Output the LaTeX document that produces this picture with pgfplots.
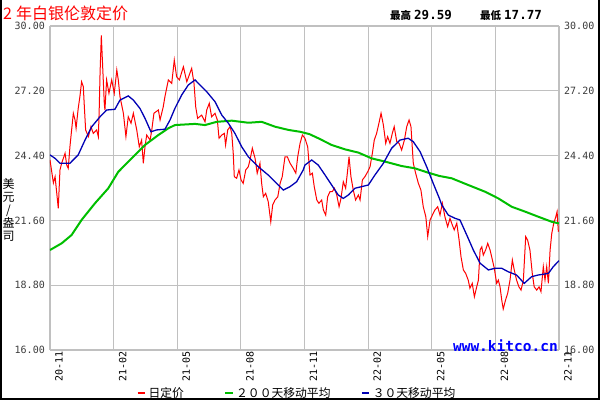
\documentclass[border=0pt]{standalone}
\usepackage{pgfplots}
\pgfplotsset{compat=1.18}
\usepackage{fontspec}
\setmainfont{DejaVu Sans}
\newfontfamily\cjk{Noto Sans CJK SC}
\newfontfamily\mono{DejaVu Sans Mono}
\definecolor{redl}{RGB}{255,0,0}
\definecolor{greenl}{RGB}{0,190,0}
\definecolor{bluel}{RGB}{0,0,180}
\definecolor{gridc}{RGB}{192,192,192}
\definecolor{urlc}{RGB}{0,0,255}
\definecolor{tickc}{RGB}{60,60,60}
\begin{document}
\begin{tikzpicture}[x=1pt,y=1pt]
\path[use as bounding box] (0,0) rectangle (600,-400);
\draw[black, line width=2pt] (1,0) -- (1,-399) -- (599,-399) -- (599,0);
\node[anchor=base west, text=redl, font=\cjk\fontsize{16}{16}\selectfont, inner sep=0pt] at (3,-19.5) {2\hspace{4pt}年白银伦敦定价};
\node[anchor=base west, inner sep=0pt] at (390,-19) {{\cjk\bfseries\fontsize{10.5}{11}\selectfont 最高}\hspace{3pt}{\mono\bfseries\fontsize{12.5}{13}\selectfont 29.59}};
\node[anchor=base west, inner sep=0pt] at (480,-19) {{\cjk\bfseries\fontsize{10.5}{11}\selectfont 最低}\hspace{3pt}{\mono\bfseries\fontsize{12.5}{13}\selectfont 17.77}};
\node[align=center, font=\cjk\fontsize{12}{13}\selectfont, inner sep=0pt] at (8.5,-210) {美\\元\\/\\盎\\司};
\begin{axis}[
  at={(50pt,-350pt)}, anchor=south west, scale only axis,
  width=509pt, height=324pt,
  xmin=0, xmax=24, ymin=16, ymax=30,
  xtick={0,3,...,24},
  xticklabels={20-11,21-02,21-05,21-08,21-11,22-02,22-05,22-08,22-11},
  ytick={16,18.8,21.6,24.4,27.2,30},
  /pgf/number format/assume math mode=true,
  yticklabel={\pgfmathprintnumber[fixed,fixed zerofill,precision=2]{\tick}},
  grid=major, major grid style={gridc, line width=1.2pt},
  axis line style={draw=none},
  major tick length=0pt,
  xticklabel style={rotate=90, anchor=east, font=\mono\fontsize{10}{12}\selectfont, inner sep=1pt, yshift=-9pt},
  yticklabel style={font=\mono\fontsize{10}{12}\selectfont, text=tickc, inner sep=1pt, xshift=-4pt},
  legend style={at={(0.485,-0.133)}, anchor=center, draw=none, fill=none,
    legend columns=3, font=\cjk\fontsize{11.8}{12}\selectfont,
    /tikz/column 2/.style={column sep=38pt},
    /tikz/column 4/.style={column sep=28pt}},
  legend image code/.code={\draw[#1, line width=2.7pt] (0pt,0pt) -- (7.5pt,0pt);},
]
\draw[gridc, line width=3pt] (rel axis cs:0,0) -- (rel axis cs:0,1);
\draw[gridc, line width=3pt] (rel axis cs:1,0) -- (rel axis cs:1,1);
\addplot[redl, line width=1pt] coordinates {
(0.00,24.21)(0.16,23.22)(0.24,23.49)(0.39,22.12)(0.47,23.78)(0.55,24.07)(0.71,24.50)(0.79,23.99)(0.86,23.85)(0.94,24.78)
(1.02,25.51)(1.10,26.23)(1.18,25.94)(1.23,25.58)(1.33,26.44)(1.41,26.95)(1.49,27.59)(1.57,27.38)(1.62,26.51)(1.68,25.51)
(1.81,25.22)(1.93,25.65)(2.04,25.36)(2.20,25.51)(2.28,25.22)(2.32,26.37)(2.36,27.96)(2.42,29.59)(2.47,28.53)(2.56,26.66)
(2.59,26.37)(2.67,27.67)(2.78,27.09)(2.91,27.67)(3.03,27.09)(3.15,28.10)(3.22,27.67)(3.30,26.95)(3.46,26.23)(3.58,25.22)
(3.69,26.08)(3.82,25.80)(3.93,26.23)(4.09,25.51)(4.21,24.78)(4.32,25.07)(4.40,24.07)(4.48,24.78)(4.56,25.29)(4.72,25.07)
(4.80,25.51)(4.90,26.23)(5.11,26.37)(5.19,25.94)(5.34,26.51)(5.42,26.95)(5.58,27.67)(5.74,27.52)(5.86,28.53)(5.97,27.81)
(6.10,27.67)(6.29,28.24)(6.45,27.59)(6.68,28.17)(6.79,27.52)(6.87,26.51)(6.96,26.01)(7.15,26.15)(7.31,25.86)(7.39,26.37)
(7.51,26.66)(7.62,26.08)(7.78,26.23)(7.89,25.94)(7.97,25.15)(8.10,25.29)(8.22,25.36)(8.28,24.86)(8.38,25.51)(8.49,25.65)
(8.57,25.36)(8.64,24.50)(8.69,23.49)(8.80,23.42)(8.91,23.78)(9.01,23.35)(9.11,23.20)(9.23,23.78)(9.35,23.92)(9.43,24.21)
(9.54,24.72)(9.67,24.28)(9.77,23.64)(9.90,24.07)(9.98,23.20)(10.06,22.62)(10.17,22.77)(10.29,22.41)(10.41,21.54)(10.50,22.27)
(10.61,22.48)(10.74,22.62)(10.85,23.20)(10.95,23.49)(11.08,24.35)(11.19,24.35)(11.32,24.07)(11.47,23.85)(11.59,23.64)(11.68,24.35)
(11.79,24.93)(11.90,25.29)(12.02,25.15)(12.15,24.78)(12.26,23.56)(12.37,23.64)(12.46,23.06)(12.58,22.48)(12.68,22.34)(12.81,22.48)
(12.89,22.05)(13.00,21.83)(13.09,22.62)(13.20,22.84)(13.31,22.84)(13.41,22.99)(13.52,22.70)(13.63,22.19)(13.72,22.55)(13.83,23.27)
(13.94,22.99)(14.02,23.64)(14.10,24.35)(14.19,23.49)(14.30,22.91)(14.41,22.48)(14.54,22.70)(14.62,22.48)(14.73,23.35)(14.85,23.49)
(14.98,23.70)(15.09,23.92)(15.20,24.50)(15.29,25.07)(15.40,25.36)(15.51,25.80)(15.61,26.23)(15.72,25.72)(15.83,24.93)(15.92,25.22)
(16.03,24.93)(16.14,25.36)(16.23,25.65)(16.35,25.00)(16.46,24.93)(16.58,24.64)(16.71,25.07)(16.82,25.65)(16.93,25.94)(17.02,25.65)
(17.13,24.07)(17.24,23.64)(17.37,23.20)(17.49,22.91)(17.60,22.19)(17.72,21.76)(17.81,20.90)(17.92,21.62)(18.03,21.83)(18.15,22.05)
(18.28,22.19)(18.39,21.83)(18.50,22.34)(18.62,21.76)(18.75,21.33)(18.86,21.69)(18.97,21.40)(19.06,21.19)(19.18,21.48)(19.29,20.75)
(19.38,20.03)(19.49,19.46)(19.60,19.31)(19.72,19.02)(19.80,18.67)(19.91,18.88)(20.01,18.30)(20.12,18.73)(20.20,19.02)(20.28,20.32)
(20.36,20.46)(20.43,20.10)(20.54,20.32)(20.64,20.61)(20.75,20.32)(20.86,19.89)(20.95,19.53)(21.06,18.88)(21.14,19.02)(21.22,18.73)
(21.30,18.16)(21.37,17.77)(21.48,18.16)(21.58,18.45)(21.69,19.02)(21.80,19.89)(21.89,19.46)(22.00,19.02)(22.11,18.73)(22.21,18.59)
(22.32,19.02)(22.43,20.90)(22.52,20.75)(22.63,20.32)(22.74,19.31)(22.83,18.73)(22.95,18.59)(23.06,18.73)(23.15,18.52)(23.26,19.60)
(23.34,19.02)(23.42,19.60)(23.50,18.88)(23.58,20.32)(23.66,21.04)(23.75,21.47)(23.85,21.76)(23.91,21.98)(23.97,21.11)
};
\addlegendentry{日定价}
\addplot[greenl, line width=2pt] coordinates {
(0,20.32)(0.55,20.61)(1.02,20.97)(1.49,21.62)(2.12,22.34)(2.75,22.99)(3.22,23.70)(3.85,24.28)(4.48,24.86)(5.11,25.29)
(5.58,25.58)(5.89,25.72)(6.84,25.77)(7.31,25.72)(7.86,25.86)(8.57,25.91)(9.35,25.82)(9.98,25.86)(10.61,25.65)(11.24,25.51)
(11.79,25.43)(12.23,25.33)(12.65,25.15)(13.28,24.86)(13.91,24.67)(14.54,24.53)(15.17,24.28)(15.80,24.14)(16.58,23.95)(17.21,23.85)
(17.84,23.66)(18.36,23.52)(18.94,23.42)(19.72,23.13)(20.51,22.84)(21.14,22.55)(21.77,22.19)(22.40,21.98)(23.02,21.76)(23.66,21.54)
(24.00,21.47)
};
\addlegendentry{２００天移动平均}
\addplot[bluel, line width=1.3pt] coordinates {
(0,24.43)(0.24,24.28)(0.47,24.07)(0.94,24.07)(1.33,24.43)(1.65,25.07)(1.97,25.65)(2.36,26.08)(2.67,26.37)(3.06,26.40)
(3.30,26.80)(3.69,26.98)(3.93,26.80)(4.24,26.44)(4.48,26.01)(4.76,25.43)(5.03,25.51)(5.42,25.54)(5.66,25.94)(5.89,26.44)
(6.21,27.02)(6.52,27.45)(6.84,27.67)(7.07,27.45)(7.39,27.16)(7.78,26.73)(8.10,26.15)(8.41,25.80)(8.72,25.36)(9.04,24.78)
(9.35,24.35)(9.82,23.92)(10.29,23.56)(10.61,23.27)(11.00,22.91)(11.32,23.06)(11.63,23.27)(11.94,23.78)(12.02,23.99)(12.34,24.21)
(12.65,23.99)(12.97,23.56)(13.28,23.13)(13.59,22.70)(13.83,22.55)(14.07,22.70)(14.38,22.99)(14.70,23.06)(15.01,23.13)(15.32,23.56)
(15.72,24.07)(16.11,24.72)(16.50,25.07)(16.89,25.15)(17.13,25.00)(17.45,24.57)(17.76,23.92)(18.07,23.20)(18.36,22.55)(18.47,22.27)
(18.78,21.83)(19.10,21.69)(19.33,21.62)(19.65,20.97)(19.96,20.32)(20.28,19.75)(20.67,19.46)(20.98,19.53)(21.30,19.53)(21.61,19.38)
(22.00,19.24)(22.36,18.88)(22.71,19.17)(23.02,19.24)(23.50,19.31)(23.73,19.60)(24.00,19.86)
};
\addlegendentry{３０天移动平均}
\node[anchor=base east, font=\mono\bfseries\fontsize{14.5}{14.5}\selectfont, text=urlc, inner sep=0pt, xshift=-1pt, yshift=-1pt] at (rel axis cs:1,0) {www.kitco.cn};
\end{axis}
\begin{axis}[
  at={(50pt,-350pt)}, anchor=south west, scale only axis,
  width=509pt, height=324pt,
  xmin=0, xmax=24, ymin=16, ymax=30,
  hide x axis, axis y line*=right, axis line style={draw=none},
  ytick={16,18.8,21.6,24.4,27.2,30},
  /pgf/number format/assume math mode=true,
  yticklabel={\pgfmathprintnumber[fixed,fixed zerofill,precision=2]{\tick}},
  major tick length=0pt,
  yticklabel style={font=\mono\fontsize{10}{12}\selectfont, text=tickc, inner sep=1pt, xshift=4pt},
]
\addplot[draw=none] coordinates {(0,16)};
\end{axis}
\end{tikzpicture}
\end{document}
